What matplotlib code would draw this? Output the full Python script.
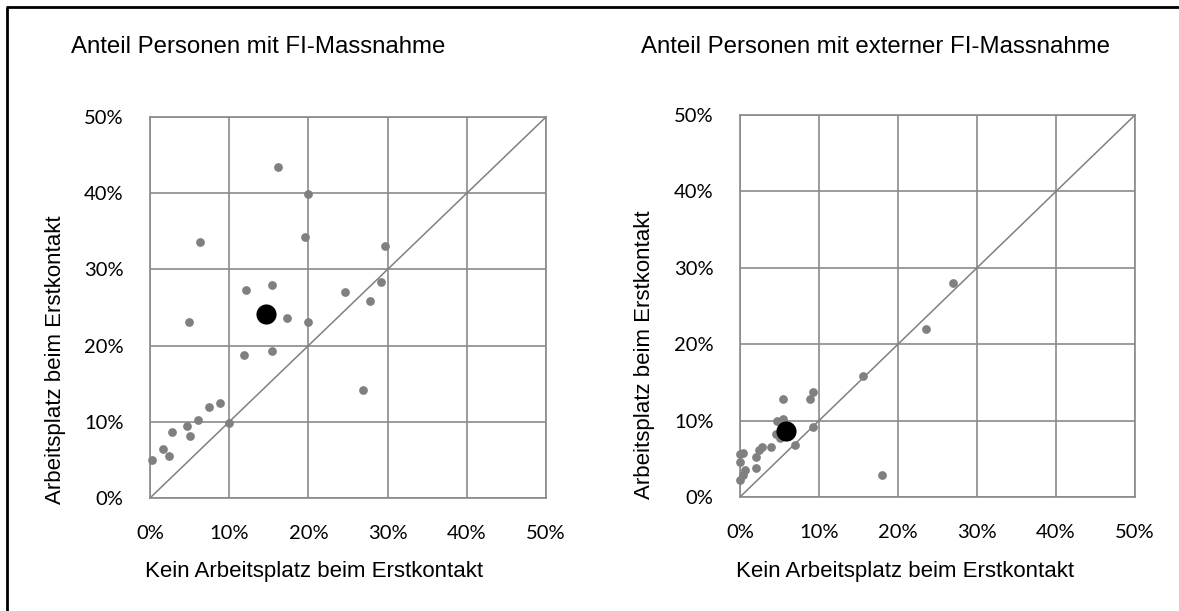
import matplotlib
matplotlib.use("Agg")
import matplotlib.pyplot as plt
from matplotlib.lines import Line2D

# values in percent
titles = ["Anteil Personen mit FI-Massnahme", "Anteil Personen mit externer FI-Massnahme"]
x_label = "Kein Arbeitsplatz beim Erstkontakt"
y_label = "Arbeitsplatz beim Erstkontakt"
ticks = [0, 10, 20, 30, 40, 50]
tick_labels = [f"{t}%" for t in ticks]
diag = [0, 50]

fi_x = [16.1, 19.9, 6.3, 19.6, 29.7, 29.2, 15.4, 12.1, 24.6, 27.8, 17.3, 19.9, 4.9,
        11.9, 15.4, 26.9, 8.9, 7.5, 6.1, 10.0, 4.7, 2.8, 5.1, 1.6, 2.4, 0.3]
fi_y = [43.5, 39.9, 33.6, 34.3, 33.1, 28.4, 28.0, 27.3, 27.0, 25.8, 23.6, 23.1, 23.1,
        18.8, 19.3, 14.2, 12.5, 12.0, 10.3, 9.8, 9.4, 8.7, 8.1, 6.4, 5.5, 5.0]
fi_mean = (14.7, 24.2)

ext_x = [26.9, 23.6, 15.6, 9.3, 8.8, 5.5, 9.3, 5.5, 4.7, 4.6, 5.1, 7.0, 3.9, 2.8,
         2.4, 2.0, 0.4, 0.0, 0.0, 2.0, 0.6, 0.4, 0.0, 18.0]
ext_y = [28.0, 22.0, 15.9, 13.8, 12.8, 12.8, 9.2, 10.2, 9.9, 8.3, 7.7, 6.8, 6.5, 6.6,
         6.2, 5.3, 5.8, 5.6, 4.6, 3.8, 3.5, 2.9, 2.2, 2.9]
ext_mean = (5.8, 8.7)

grid_col = "#8a8a8a"
dot_col = "#808080"

fig = plt.figure(figsize=(11.79, 6.11), dpi=100)
fig.patch.set_facecolor("white")

positions = [[150 / 1179, 1 - 498 / 611, 396 / 1179, 381 / 611],
             [740 / 1179, 1 - 497 / 611, 395 / 1179, 382 / 611]]
data = [(fi_x, fi_y, fi_mean), (ext_x, ext_y, ext_mean)]
title_x = [71, 641]
ylab_x = [55, 645]
ylab_y = [360, 355]

for i in range(2):
    ax = fig.add_axes(positions[i])
    xs, ys, mean = data[i]
    ax.set_xlim(0, 50)
    ax.set_ylim(0, 50)
    ax.set_xticks(ticks)
    ax.set_yticks(ticks)
    ax.set_xticklabels(tick_labels, fontfamily="Lato", fontsize=14.5)
    ax.set_yticklabels(tick_labels, fontfamily="Lato", fontsize=14.5)
    ax.tick_params(length=0)
    ax.tick_params(axis="x", pad=19.5)
    ax.tick_params(axis="y", pad=19)
    ax.grid(True, color=grid_col, linewidth=1.2)
    ax.set_axisbelow(True)
    for s in ax.spines.values():
        s.set_color(grid_col)
        s.set_linewidth(1.2)
    ax.plot(diag, diag, color="#808080", linewidth=1.1, zorder=2)
    ax.plot(xs, ys, linestyle="none", marker="o", markersize=6.3,
            color=dot_col, markeredgewidth=0, clip_on=False, zorder=3)
    ax.plot([mean[0]], [mean[1]], linestyle="none", marker="o", markersize=14.5,
            color="black", markeredgewidth=0, clip_on=False, zorder=4)

    fig.text(title_x[i] / 1179, 1 - 53 / 611, titles[i], fontfamily="Liberation Sans",
             fontsize=17.3, ha="left", va="baseline")
    fig.text(ylab_x[i] / 1179, 1 - ylab_y[i] / 611, y_label, fontfamily="Liberation Sans",
             fontsize=16, rotation=90, ha="center", va="center")

fig.text(314 / 1179, 1 - 577 / 611, x_label, fontfamily="Liberation Sans",
         fontsize=16, ha="center", va="baseline")
fig.text(905 / 1179, 1 - 577 / 611, x_label, fontfamily="Liberation Sans",
         fontsize=16, ha="center", va="baseline")

# outer frame (only left and top edges are in view)
fig.add_artist(Line2D([6.5 / 1179, 6.5 / 1179], [0, 1 - 7 / 611], color="black",
                      linewidth=2, solid_capstyle="butt", transform=fig.transFigure))
fig.add_artist(Line2D([5.5 / 1179, 1], [1 - 7 / 611, 1 - 7 / 611], color="black",
                      linewidth=2, solid_capstyle="butt", transform=fig.transFigure))

fig.savefig("out.png", dpi=100)
